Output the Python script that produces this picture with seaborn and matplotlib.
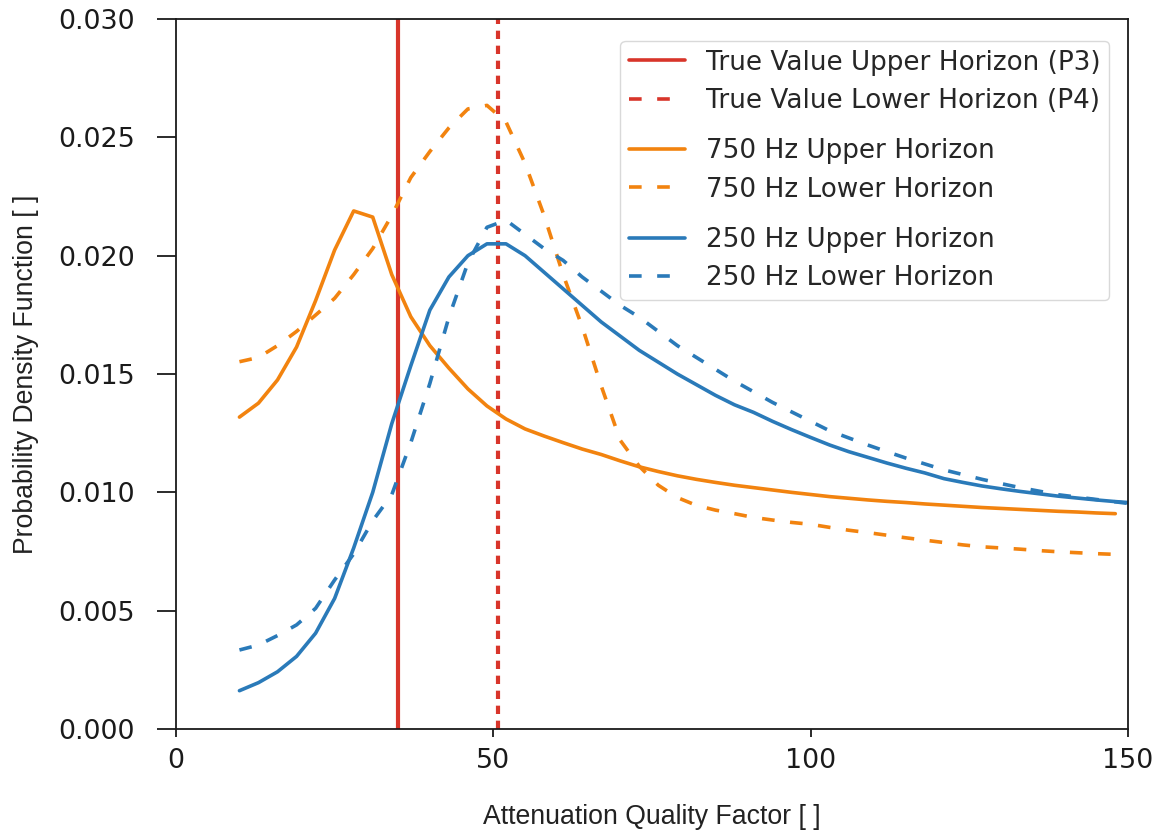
import numpy as np
import matplotlib
matplotlib.use("Agg")
import matplotlib.pyplot as plt
from matplotlib.lines import Line2D
from matplotlib.offsetbox import VPacker
import seaborn as sns

# Attenuation quality factor grid (shared by the 750 Hz curves)
q_750 = np.arange(10, 149, 3)
# 250 Hz curves run one step further (clipped at the right edge)
q_250 = np.arange(10, 152, 3)

pdf_750_upper = [
    0.01318, 0.01377, 0.01475, 0.01614, 0.01810, 0.02024, 0.02189, 0.02163,
    0.01920, 0.01742, 0.01620, 0.01525, 0.01437, 0.01365, 0.01310, 0.01268,
    0.01238, 0.01210, 0.01183, 0.01160, 0.01133, 0.01108, 0.01088, 0.01070,
    0.01055, 0.01042, 0.01030, 0.01020, 0.01010, 0.01000, 0.00991, 0.00982,
    0.00975, 0.00968, 0.00962, 0.00957, 0.00951, 0.00946, 0.00941, 0.00936,
    0.00932, 0.00928, 0.00924, 0.00920, 0.00917, 0.00913, 0.00910,
]
pdf_750_lower = [
    0.01552, 0.01570, 0.01620, 0.01680, 0.01749, 0.01820, 0.01920, 0.02030,
    0.02170, 0.02330, 0.02440, 0.02540, 0.02620, 0.02635, 0.02565, 0.02390,
    0.02170, 0.01920, 0.01700, 0.01450, 0.01220, 0.01110, 0.01030, 0.00978,
    0.00945, 0.00925, 0.00910, 0.00894, 0.00883, 0.00873, 0.00865, 0.00852,
    0.00840, 0.00830, 0.00819, 0.00808, 0.00798, 0.00788, 0.00778, 0.00770,
    0.00765, 0.00760, 0.00754, 0.00749, 0.00745, 0.00741, 0.00738,
]
pdf_250_upper = [
    0.00162, 0.00196, 0.00242, 0.00307, 0.00405, 0.00552, 0.00765, 0.01000,
    0.01290, 0.01535, 0.01770, 0.01910, 0.02000, 0.02050, 0.02050, 0.02000,
    0.01930, 0.01860, 0.01790, 0.01720, 0.01660, 0.01600, 0.01550, 0.01500,
    0.01455, 0.01410, 0.01370, 0.01338, 0.01300, 0.01265, 0.01232, 0.01200,
    0.01172, 0.01148, 0.01124, 0.01102, 0.01082, 0.01058, 0.01042, 0.01027,
    0.01015, 0.01004, 0.00994, 0.00984, 0.00976, 0.00968, 0.00961, 0.00955,
]
pdf_250_lower = [
    0.00334, 0.00355, 0.00395, 0.00440, 0.00510, 0.00630, 0.00740, 0.00880,
    0.00990, 0.01210, 0.01460, 0.01740, 0.01970, 0.02120, 0.02150, 0.02090,
    0.02030, 0.01980, 0.01910, 0.01850, 0.01790, 0.01740, 0.01680, 0.01620,
    0.01570, 0.01520, 0.01470, 0.01425, 0.01380, 0.01340, 0.01300, 0.01260,
    0.01230, 0.01200, 0.01172, 0.01145, 0.01120, 0.01095, 0.01075, 0.01055,
    0.01037, 0.01020, 0.01005, 0.00990, 0.00980, 0.00970, 0.00960, 0.00950,
]

# True attenuation values of the two horizons
q_true_upper = 35.0   # P3
q_true_lower = 50.7   # P4

legend_labels = [
    "True Value Upper Horizon (P3)",
    "True Value Lower Horizon (P4)",
    "750 Hz Upper Horizon",
    "750 Hz Lower Horizon",
    "250 Hz Upper Horizon",
    "250 Hz Lower Horizon",
]
x_label = "Attenuation Quality Factor [ ]"
y_label = "Probability Density Function [ ]"

RED = "#d8352a"
ORANGE = "#f2830f"
BLUE = "#2a7ab9"
LW = 2.6
DASH = (0, (3.5, 4.3))
DOT = (0, (2.0, 1.6))

sns.set_theme(style="ticks")
plt.rcParams["font.family"] = ["DejaVu Sans"]
plt.rcParams["axes.edgecolor"] = "#1a1a1a"
plt.rcParams["axes.linewidth"] = 1.3

fig = plt.figure(figsize=(11.6, 8.33), dpi=100)
ax = fig.add_axes([0.1517, 0.1248, 0.8207, 0.8524])

ax.axvline(q_true_upper, color=RED, lw=3.0, solid_capstyle="butt")
ax.axvline(q_true_lower, color=RED, lw=3.0, linestyle=DOT)

curves = [
    (q_750, pdf_750_upper, ORANGE, "-"),
    (q_750, pdf_750_lower, ORANGE, DASH),
    (q_250, pdf_250_upper, BLUE, "-"),
    (q_250, pdf_250_lower, BLUE, DASH),
]
for q, pdf, color, style in curves:
    sns.lineplot(x=q, y=pdf, ax=ax, color=color, lw=LW)
    ax.lines[-1].set_linestyle(style)

ax.set_xlim(0, 150)
ax.set_ylim(0, 0.030)
ax.set_xticks([0, 50, 100, 150])
ax.set_yticks(np.arange(0, 0.0301, 0.005))
ax.yaxis.set_major_formatter(matplotlib.ticker.FormatStrFormatter("%.3f"))
for s in ax.spines.values():
    s.set_visible(True)
ax.tick_params(axis="x", length=6, width=1.3, pad=7.5, labelsize=19.4, colors="#1a1a1a")
ax.tick_params(axis="y", length=13.5, width=1.3, pad=16, labelsize=19.4, colors="#1a1a1a")

ax.set_xlabel(x_label, family="Liberation Sans", fontsize=19.2, color="#222222", labelpad=22)
ax.set_ylabel(y_label, family="Liberation Sans", fontsize=19.2, color="#222222", labelpad=14)

# Legend: proxy handles, grouped in pairs
handles = [
    Line2D([], [], color=RED, lw=LW),
    Line2D([], [], color=RED, lw=LW, linestyle=DASH),
    Line2D([], [], color=ORANGE, lw=LW),
    Line2D([], [], color=ORANGE, lw=LW, linestyle=DASH),
    Line2D([], [], color=BLUE, lw=LW),
    Line2D([], [], color=BLUE, lw=LW, linestyle=DASH),
]
leg = ax.legend(handles, legend_labels, loc="upper right",
                bbox_to_anchor=(0.980, 0.969), borderaxespad=0.0,
                fontsize=18.9, handlelength=2.15, handletextpad=0.77,
                borderpad=0.33, labelspacing=0.47, fancybox=True,
                framealpha=0.8, edgecolor="#d0d0d0")
column = leg._legend_handle_box.get_children()[0]
rows = list(column.get_children())
pairs = [VPacker(children=rows[i:i + 2], pad=0, sep=column.sep, align=column.align)
         for i in range(0, len(rows), 2)]
for p in pairs:
    p.set_figure(fig)
column._children = pairs
column.sep = column.sep + 8.6

fig.savefig("out.png", dpi=100, facecolor="white")
